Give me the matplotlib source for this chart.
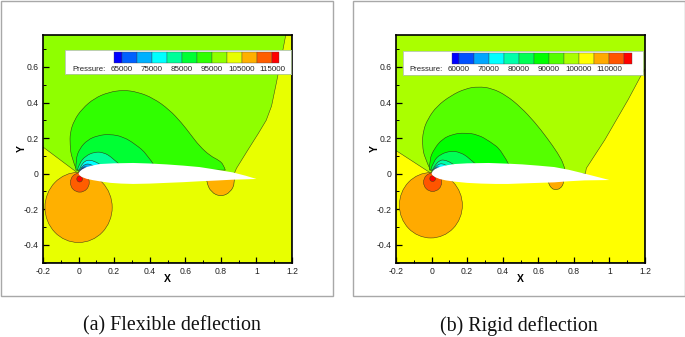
import matplotlib
matplotlib.use('Agg')
import matplotlib.pyplot as plt
from matplotlib.path import Path
from matplotlib.patches import PathPatch, Rectangle, Ellipse

plt.rcParams['font.family'] = ['Liberation Sans', 'DejaVu Sans']

W, H = 685, 337

# couleurs de la legende
colors_a = ['#0000ff', '#0060ff', '#00b0ff', '#00ffff', '#00ff99', '#00ff33',
            '#30ff00', '#8fff00', '#e8ff00', '#ffb000', '#ff5d00', '#ff0000']
colors_b = ['#0000ff', '#0050ff', '#00a6ff', '#00ffff', '#00ffaa', '#00ff55', '#00ff00',
            '#55ff00', '#aaff00', '#ffff00', '#ffaa00', '#ff5500', '#ff0000']
edges_a = [62200, 65000, 70000, 75000, 80000, 85000, 90000, 95000, 100000, 105000, 110000, 115000, 117500]
edges_b = [57500, 60000, 65000, 70000, 75000, 80000, 85000, 90000, 95000, 100000, 105000, 110000, 115000, 117500]
labels_a = [65000, 75000, 85000, 95000, 105000, 115000]
labels_b = [60000, 70000, 80000, 90000, 100000, 110000]

# profil
foil_a = [(0, 0), (.006, .012), (.02, .024), (.045, .037), (.08, .046), (.12, .054), (.2, .058), (.307, .06),
          (.4, .057), (.494, .052), (.59, .045), (.68, .037), (.77, .023), (.867, .007), (.94, -.012), (1.0, -.03),
          (.94, -.032), (.867, -.034), (.77, -.039), (.68, -.043), (.59, -.048), (.494, -.052), (.4, -.056),
          (.307, -.058), (.24, -.056), (.18, -.052), (.13, -.045), (.082, -.037), (.045, -.029), (.018, -.019), (.005, -.009)]
foil_b = [(0, 0), (.006, .014), (.02, .026), (.045, .037), (.08, .046), (.13, .054), (.2, .058), (.32, .06),
          (.43, .056), (.51, .052), (.6, .045), (.69, .037), (.77, .022), (.86, 0), (.93, -.018), (1.0, -.036),
          (.93, -.037), (.86, -.038), (.77, -.043), (.69, -.049), (.6, -.052), (.51, -.055), (.43, -.058),
          (.36, -.058), (.28, -.056), (.2, -.052), (.13, -.045), (.08, -.038), (.045, -.03), (.02, -.02), (.005, -.009)]

# zones jaunes
yellow_a = [(-.2, .15), (0, 0), (.875, 0), (.888, .03), (.95, .13), (1.01, .225), (1.055, .30), (1.085, .38),
            (1.112, .51), (1.14, .65), (1.165, .78), (1.2, .78), (1.2, -.5), (-.2, -.5)]
yellow_b = [(-.2, .13), (0, 0), (.865, 0), (.87, .03), (.974, .19), (1.105, .416), (1.18, .556), (1.2, .59),
            (1.2, -.5), (-.2, -.5)]

# isobares au dessus du profil
a_green1 = [(-.011, .02), (-.04, .09), (-.048, .16), (-.048, .23), (-.025, .30), (.02, .365), (.09, .425), (.17, .458),
            (.25, .47), (.33, .46), (.42, .425), (.51, .36), (.58, .285), (.63, .22), (.68, .155), (.74, .1),
            (.79, .075), (.815, .05), (.825, .02)]
a_green2 = [(-.015, .02), (-.016, .08), (.005, .14), (.05, .19), (.11, .215), (.176, .222), (.25, .208), (.32, .165),
            (.385, .11), (.429, .04)]
a_green3 = [(-.007, .02), (.005, .06), (.04, .1), (.09, .122), (.14, .12), (.19, .09), (.242, .04)]
a_teal = [(0, .01), (.02, .07), (.082, .08), (.139, .04)]
a_cyan = [(.002, .01), (.022, .052), (.073, .056), (.1, .03)]
a_blue = [(.004, .008), (.018, .036), (.05, .04), (.07, .02)]
a_dark = [(.005, .006), (.016, .028), (.035, .032), (.045, .02)]
above_a = [(a_green1, 6), (a_green2, 5), (a_green3, 4), (a_teal, 3), (a_cyan, 2), (a_blue, 1), (a_dark, 0)]

b_green1 = [(-.006, .02), (-.04, .09), (-.052, .16), (-.048, .24), (-.02, .31), (.03, .38), (.11, .44), (.19, .478),
            (.262, .49), (.34, .48), (.42, .44), (.5, .375), (.58, .29), (.65, .2), (.71, .115), (.745, .05), (.75, .02)]
b_green2 = [(-.012, .02), (-.012, .08), (.015, .14), (.06, .195), (.12, .222), (.185, .23), (.26, .22), (.33, .18),
            (.395, .13), (.44, .04)]
b_green3 = [(-.005, .02), (.01, .07), (.05, .11), (.11, .128), (.16, .12), (.21, .09), (.262, .04)]
b_teal = [(0, .01), (.028, .07), (.084, .082), (.14, .04)]
b_cyan = [(.002, .01), (.026, .052), (.075, .058), (.1, .03)]
b_blue = [(.004, .008), (.018, .036), (.05, .04), (.07, .02)]
b_dark = [(.005, .006), (.016, .028), (.035, .032), (.045, .02)]
above_b = [(b_green1, 7), (b_green2, 6), (b_green3, 5), (b_teal, 4), (b_cyan, 3), (b_blue, 2), (b_dark, 1)]

# orange sous le bord d'attaque : centre x, centre y, largeur, hauteur
a_circles = [(0.0, -.19, .378, .395, 9), (.007, -.05, .106, .108, 10), (.006, -.03, .032, .034, 11)]
b_circles = [(-.004, -.178, .354, .368, 10), (.006, -.048, .102, .104, 11), (.006, -.028, .032, .032, 12)]
a_rear = [(.715, -.01), (.72, -.05), (.745, -.105), (.8, -.13), (.855, -.105), (.88, -.05), (.875, -.01)]
b_rear = [(.65, -.02), (.655, -.05), (.675, -.085), (.697, -.09), (.725, -.085), (.745, -.05), (.745, -.02)]


def smooth_patch(pts, color):
    # courbes quadratiques entre les milieux
    verts = [pts[0]]
    codes = [Path.MOVETO]
    for i in range(1, len(pts) - 1):
        if i < len(pts) - 2:
            end = ((pts[i][0] + pts[i + 1][0]) / 2, (pts[i][1] + pts[i + 1][1]) / 2)
        else:
            end = pts[-1]
        verts += [pts[i], end]
        codes += [Path.CURVE3, Path.CURVE3]
    verts.append(pts[0])
    codes.append(Path.CLOSEPOLY)
    return PathPatch(Path(verts, codes), facecolor=color, edgecolor='#304018', lw=0.4, zorder=2)


def panel(left, colors, edges, labels, foil, yellow, above, circles, rear, bg, yel, orange, leg_px, bar_px, caption, cap_x):
    ax = fig.add_axes([left / W, 1 - 262.5 / H, 249 / W, 227.5 / H])
    ax.set_xlim(-.2, 1.2)
    ax.set_ylim(-.5, .78)
    ax.set_facecolor(bg)

    ax.fill([p[0] for p in yellow], [p[1] for p in yellow], facecolor=yel, edgecolor='#405018', lw=0.4, zorder=1)
    for cx, cy, w, h, c in circles:
        ax.add_patch(Ellipse((cx, cy), w, h, facecolor=colors[c], edgecolor='#504018', lw=0.4, zorder=2))
    ax.add_patch(smooth_patch(rear, orange))
    for pts, c in above:
        ax.add_patch(smooth_patch(pts, colors[c]))
    ax.fill([p[0] for p in foil], [p[1] for p in foil], color='white', lw=0, zorder=3)

    ax.set_xticks([-.2, 0, .2, .4, .6, .8, 1, 1.2])
    ax.set_xticklabels(['-0.2', '0', '0.2', '0.4', '0.6', '0.8', '1', '1.2'])
    ax.set_yticks([-.4, -.2, 0, .2, .4, .6])
    ax.set_yticklabels(['-0.4', '-0.2', '0', '0.2', '0.4', '0.6'])
    ax.set_xticks([-.1, .1, .3, .5, .7, .9, 1.1], minor=True)
    ax.set_yticks([-.5, -.3, -.1, .1, .3, .5, .7], minor=True)
    ax.tick_params(which='major', direction='in', length=4, width=0.9, labelsize=6.2, pad=3, color='black', labelcolor='#222222')
    ax.tick_params(which='minor', direction='in', length=2, width=0.7)
    ax.set_xlabel('X', fontsize=7.5, fontweight='bold', labelpad=-1)
    ax.set_ylabel('Y', fontsize=7.5, fontweight='bold', labelpad=-2)
    for s in ax.spines.values():
        s.set_linewidth(1.2)
        s.set_zorder(10)

    # legende
    lx0, lx1, ly0, ly1 = leg_px
    p0 = edges[1]
    x_to_p = lambda px: p0 + (px - bar_px) / 15 * 5000
    lax = fig.add_axes([lx0 / W, 1 - ly1 / H, (lx1 - lx0) / W, (ly1 - ly0) / H], zorder=5)
    lax.set_xlim(x_to_p(lx0), x_to_p(lx1))
    lax.set_ylim(0, 1)
    lax.set_xticks([])
    lax.set_yticks([])
    for s in lax.spines.values():
        s.set_linewidth(0.6)
        s.set_color('#b0c8a0')
    for i, c in enumerate(colors):
        lax.add_patch(Rectangle((edges[i], .44), edges[i + 1] - edges[i], .46, facecolor=c, edgecolor='#404040', lw=0.25))
    for v in labels:
        lax.text(v, .19, str(v), ha='center', va='center', fontsize=5.8, color='#222222')
    lax.text(x_to_p(lx0 + 7), .19, 'Pressure:', ha='left', va='center', fontsize=5.6, color='#222222')

    fig.text(cap_x / W, 1 - 326 / H, caption, ha='center', va='center', fontsize=14.4,
             family=['Liberation Serif', 'DejaVu Serif'], color='#111111')


fig = plt.figure(figsize=(W / 100, H / 100), dpi=100)
fig.add_artist(Rectangle((0.5 / W, 1 - 295.5 / H), 332 / W, 295 / H, transform=fig.transFigure, facecolor='white', edgecolor='#a8a8a8', lw=1, zorder=-1))
fig.add_artist(Rectangle((352.5 / W, 1 - 295.5 / H), 332 / W, 295 / H, transform=fig.transFigure, facecolor='white', edgecolor='#a8a8a8', lw=1, zorder=-1))

panel(43, colors_a, edges_a, labels_a, foil_a, yellow_a, above_a, a_circles, a_rear, colors_a[7], colors_a[8], colors_a[9],
      (65, 291, 50, 74), 122, '(a) Flexible deflection', 172)
panel(396, colors_b, edges_b, labels_b, foil_b, yellow_b, above_b, b_circles, b_rear, colors_b[8], colors_b[9], colors_b[10],
      (402.5, 643, 50.5, 74.5), 459, '(b) Rigid deflection', 518.5)

fig.savefig('out.png', dpi=100)
